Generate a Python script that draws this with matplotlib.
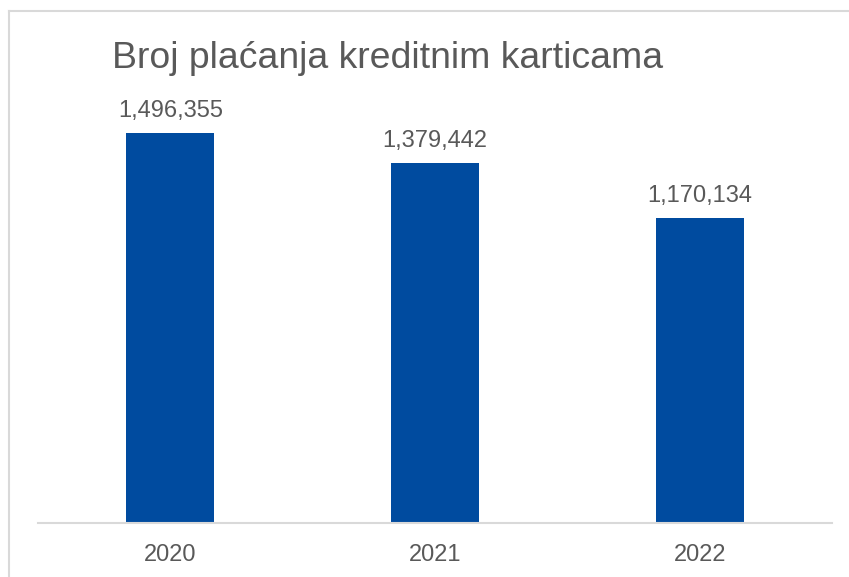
import matplotlib
matplotlib.use("Agg")
import matplotlib.pyplot as plt
from matplotlib.lines import Line2D

categories = ["2020", "2021", "2022"]
values = [1496355, 1379442, 1170134]
title = "Broj plaćanja kreditnim karticama"

plt.rcParams['font.family'] = ['Liberation Sans', 'DejaVu Sans']

W, H = 849, 577
fig = plt.figure(figsize=(W / 100, H / 100), dpi=100)
fig.patch.set_facecolor("white")

# axes placement in pixels
x0, x1 = 38, 832
y_bottom, y_top = 523, 106
ax = fig.add_axes([x0 / W, 1 - y_bottom / H, (x1 - x0) / W, (y_bottom - y_top) / H])

bar_color = "#004B9F"
text_color = "#595959"

x = range(len(categories))
bars = ax.bar(x, values, width=0.332, color=bar_color, zorder=2)
ax.set_xlim(-0.5, 2.5)
ax.set_ylim(0, 1600000)

for b, v in zip(bars, values):
    ax.annotate(f"{v:,}", (b.get_x() + b.get_width() / 2, v), xytext=(0, 8),
                textcoords="offset points", ha="center", va="bottom",
                fontsize=17, color=text_color)

ax.set_xticks(list(x))
ax.set_xticklabels(categories, fontsize=17, color=text_color)
ax.tick_params(axis="x", length=0, pad=15)
ax.set_yticks([])
for s in ["top", "right", "left"]:
    ax.spines[s].set_visible(False)
ax.spines["bottom"].set_color("#D9D9D9")
ax.spines["bottom"].set_linewidth(1.5)
ax.set_facecolor("none")

fig.text(112 / W, 1 - 68 / H, title, fontsize=26.9, color=text_color,
         ha="left", va="baseline")

# outer chart border (left and top visible)
fig.add_artist(Line2D([8.5 / W, 8.5 / W], [0, 1 - 10.5 / H], transform=fig.transFigure,
                      color="#D9D9D9", linewidth=1.5))
fig.add_artist(Line2D([8.5 / W, 1], [1 - 10.5 / H, 1 - 10.5 / H], transform=fig.transFigure,
                      color="#D9D9D9", linewidth=1.5))

fig.savefig("out.png", dpi=100, facecolor="white")
